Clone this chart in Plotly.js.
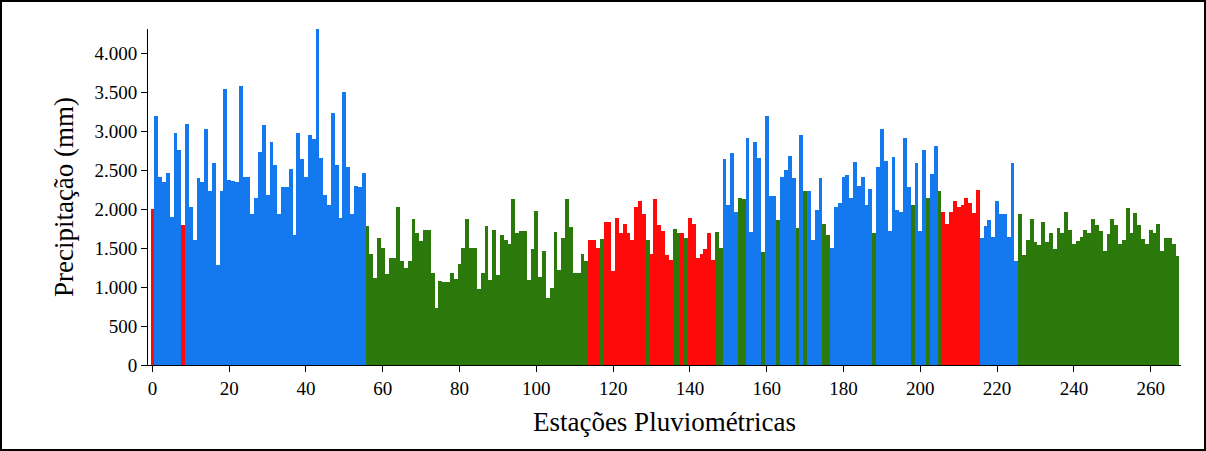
<!DOCTYPE html>
<html>
<head>
<meta charset="utf-8">
<script src="https://cdn.plot.ly/plotly-3.0.1.min.js"></script>
<style>
  html, body { margin: 0; padding: 0; background: #fff; }
  #wrap { position: relative; width: 1206px; height: 451px; }
  #chart { width: 1206px; height: 451px; }
  #frame { position: absolute; left: 0; top: 0; width: 1206px; height: 451px;
           box-sizing: border-box; border: 2px solid #000; pointer-events: none; }
</style>
</head>
<body>
<div id="wrap"><div id="chart"></div><div id="frame"></div></div>
<script>
// ---- data (station precipitation, mm), split by run of stations ----
const seg1 = [2000,3200,2420,2350,2470,1900,2975,2760,1800,3100,
              2030,1600,2400,2350,3030,2240,2590,1290,2230,3540,
              2375,2360,2350,3580,2420,2420,1935,2150,2740,3080,
              2180,2860,2570,1935,2280,2280,2520,1670,2975,2640,
              2420,2950,2900,4310,2660,2180,2050,3240,2570,1890,
              3510,2540,1935,2300,2280,2470];
const seg1Groups = "RBBBBBBBRB" + "BBBBBBBBBB" + "BBBBBBBBBB" + "BBBBBBBBBB" + "BBBBBBBBBB" + "BBBBBB";

const seg2 = [1790,1430,1120,1630,1500,1170,1370,1370,2030,1330,
              1250,1330,1880,1700,1590,1740,1740,1180,730,1080,
              1060,1060,1180,1100,1300,1500,1880,1500,1500,980,
              1180,1785,1090,1740,1160,1670,1610,1550,2130,1690,
              1720,1720,1090,1490,1980,1130,1470,865,984,1710,
              1220,1630,2130,1770,1180,1180,1430,1340];
const seg2Groups = "GGGGGGGGGG" + "GGGGGGGGGG" + "GGGGGGGGGG" + "GGGGGGGGGG" + "GGGGGGGGGG" + "GGGGGGGG";

const seg3 = [1610,1610,1500,1620,1840,1840,1210,1890,1690,1810,
              1690,1600,2030,2100,1935,1610,1420,2130,1800,1720,
              1410,1350,1750,1690,1690,1630,1890,1810,1370,1420,
              1490,1690,1350,1710,1500];
const seg3Groups = "RRRGRRRRRR" + "RRRRRGRRRR" + "RRGGRGRRRR" + "RRRGG";

const seg4 = [2640,2050,2720,1970,2150,2130,2910,1710,2860,2660,
              1455,3200,2170,2170,1860,2420,2500,2690,2400,1760,
              2950,2230,2230,1600,1990,2400,1810,1670,1500,2030,
              2080,2410,2440,2140,2610,2300,2420,2050,2260,1690,
              2540,3030,2620,1720,2670,1990,1970,2910,2280,2050,
              2600,1720,2760,2140,2450,2810,2230];
const seg4Groups = "BBBBGGBBBB" + "GBBBGBBBBG" + "BGBBBBGGBB" + "BBBBBBBBBG" + "BBBBBBBBBG" + "BBBGBBG";

const seg5 = [1960,1810,1960,2100,2030,2050,2150,2080,1950,2250];
const seg5Groups = "RRRRRRRRRR";

const seg6 = [1630,1790,1860,1640,2100,1940,1940,1640,2590,1340];
const seg6Groups = "BBBBBBBBBB";

const seg7 = [1940,1410,1610,1880,1580,1540,1840,1580,1700,1490,
              1760,1700,1960,1730,1560,1590,1650,1740,1700,1880,
              1800,1720,1460,1680,1880,1800,1560,1600,2010,1700,
              1950,1800,1620,1560,1740,1700,1810,1460,1630,1630,
              1550,1400];
const seg7Groups = "GGGGGGGGGG" + "GGGGGGGGGG" + "GGGGGGGGGG" + "GGGGGGGGGG" + "GG";

const yTickVals = [0,500,1000,1500,2000,2500,3000,3500,4000];
const yTickText = ["0","500","1.000","1.500","2.000","2.500","3.000","3.500","4.000"];
const xTickVals = [0,20,40,60,80,100,120,140,160,180,200,220,240,260];
const xTickText = ["0","20","40","60","80","100","120","140","160","180","200","220","240","260"];

// ---- build ----
const segments = [[seg1,seg1Groups],[seg2,seg2Groups],[seg3,seg3Groups],[seg4,seg4Groups],
                  [seg5,seg5Groups],[seg6,seg6Groups],[seg7,seg7Groups]];
const groupColor = { B: "#1478ee", G: "#2b780b", R: "#ff0a0a" };
const values = [], groups = [];
segments.forEach(([v, g]) => { v.forEach((val, i) => { values.push(val); groups.push(g[i]); }); });
const stations = values.map((_, i) => i);
const colors = groups.map(g => groupColor[g]);

const font = "Liberation Serif, Times New Roman, serif";
const trace = {
  type: "bar", x: stations, y: values, width: 1,
  marker: { color: colors, line: { width: 0 } },
  hoverinfo: "x+y"
};
const layout = {
  width: 1206, height: 451,
  margin: { l: 148, r: 25, t: 29, b: 86 },
  paper_bgcolor: "#fff", plot_bgcolor: "#fff",
  bargap: 0, showlegend: false,
  font: { family: font, color: "#000", size: 19 },
  xaxis: {
    range: [-1.15, 267.9], tickvals: xTickVals, ticktext: xTickText,
    ticks: "outside", ticklen: 6, tickcolor: "#000", tickwidth: 1,
    showline: true, linecolor: "#000", linewidth: 1,
    showgrid: false, zeroline: false,
    tickfont: { family: font, size: 19, color: "#000" },
    title: { text: "Estações Pluviométricas", font: { family: font, size: 27, color: "#000" }, standoff: 14 }
  },
  yaxis: {
    range: [0, 4315], tickvals: yTickVals, ticktext: yTickText,
    ticks: "outside", ticklen: 6, tickcolor: "#000", tickwidth: 1,
    showline: true, linecolor: "#000", linewidth: 1,
    showgrid: false, zeroline: false,
    tickfont: { family: font, size: 19, color: "#000" },
    title: { text: "Precipitação (mm)", font: { family: font, size: 27, color: "#000" }, standoff: 13 }
  }
};
Plotly.newPlot("chart", [trace], layout, { displayModeBar: false, staticPlot: true });
</script>
</body>
</html>
